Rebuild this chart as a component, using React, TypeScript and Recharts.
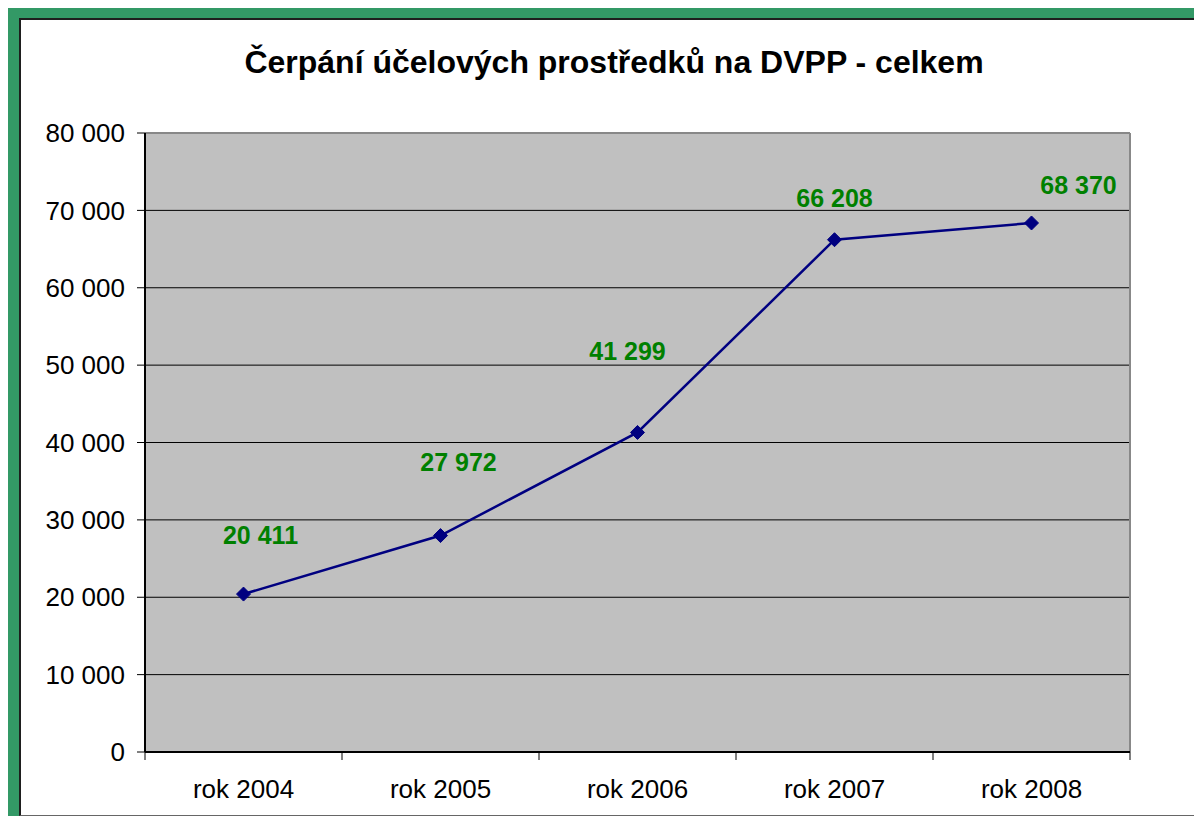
import { CartesianGrid, LabelList, Line, LineChart, ReferenceLine, XAxis, YAxis } from "recharts";

const years = ["rok 2004", "rok 2005", "rok 2006", "rok 2007", "rok 2008"];
const spending = [20411, 27972, 41299, 66208, 68370];
const yTicks = [0, 10000, 20000, 30000, 40000, 50000, 60000, 70000, 80000];

// where Excel left each data label, relative to its point
const labelShift = [
  { dx: 17, dy: -59 },
  { dx: 18, dy: -74 },
  { dx: -10, dy: -81 },
  { dx: 0, dy: -42 },
  { dx: 47, dy: -38 }
];

const data = years.map((year, i) => ({ x: i + 0.5, year, value: spending[i] }));

const FONT = '"Liberation Sans", Arial, sans-serif';
const fmt = (v: number) => String(v).replace(/\B(?=(\d{3})+(?!\d))/g, " ");

function Diamond(props: any) {
  const { cx, cy } = props;
  if (cx == null || cy == null) return null;
  const r = 7;
  return (
    <polygon
      points={`${cx},${cy - r} ${cx + r},${cy} ${cx},${cy + r} ${cx - r},${cy}`}
      fill="#000080"
      stroke="#000080"
    />
  );
}

function ValueLabel(props: any) {
  const { x, y, index, value } = props;
  const s = labelShift[index] ?? { dx: 0, dy: -30 };
  return (
    <text
      x={x + s.dx}
      y={y + s.dy}
      textAnchor="middle"
      dominantBaseline="central"
      fill="#008000"
      fontSize={25}
      fontWeight="bold"
      fontFamily={FONT}
    >
      {fmt(value)}
    </text>
  );
}

export default function App() {
  return (
    <div style={{ position: "relative", width: 1194, height: 808, overflow: "hidden", fontFamily: FONT }}>
      <div
        style={{
          position: "absolute",
          left: 0,
          top: 0,
          width: 1260,
          height: 808,
          boxSizing: "border-box",
          borderTop: "10px solid #339966",
          borderLeft: "11px solid #339966"
        }}
      >
        <div
          style={{
            height: 798,
            boxSizing: "border-box",
            borderTop: "2px solid #1e1e1e",
            borderLeft: "2px solid #1e1e1e",
            borderBottom: "1px solid #666",
            background: "#fff"
          }}
        />
      </div>

      <div
        style={{
          position: "absolute",
          left: 106,
          top: 38,
          width: 1000,
          textAlign: "center",
          fontSize: 32,
          lineHeight: "32px",
          fontWeight: "bold",
          color: "#000"
        }}
      >
        Čerpání účelových prostředků na DVPP - celkem
      </div>

      <div style={{ position: "absolute", left: -8, top: -8 }}>
        <LineChart width={1202} height={816} data={data} margin={{ top: 133, right: 72, bottom: 14, left: 45 }}>
          <CartesianGrid fill="#C0C0C0" stroke="#000" vertical={false} strokeOpacity={1} />
          {/* category boundaries: axis line and tick marks */}
          <XAxis
            dataKey="x"
            type="number"
            domain={[0, 5]}
            ticks={[0, 1, 2, 3, 4, 5]}
            tickFormatter={() => ""}
            axisLine={{ stroke: "#000", strokeWidth: 2 }}
            tickLine={{ stroke: "#000" }}
            tickSize={8}
            height={8}
          />
          {/* category names, centred between the marks */}
          <XAxis
            xAxisId="names"
            dataKey="x"
            type="number"
            domain={[0, 5]}
            ticks={[0.5, 1.5, 2.5, 3.5, 4.5]}
            tickFormatter={(v: number) => years[Math.floor(v)]}
            tickLine={false}
            axisLine={false}
            tickSize={0}
            tickMargin={20}
            height={42}
            tick={{ fill: "#000", fontSize: 26, fontFamily: FONT }}
          />
          <YAxis
            domain={[0, 80000]}
            ticks={yTicks}
            tickFormatter={fmt}
            width={100}
            tickSize={8}
            tickMargin={12}
            axisLine={{ stroke: "#000", strokeWidth: 2 }}
            tickLine={{ stroke: "#000" }}
            tick={{ fill: "#000", fontSize: 26, fontFamily: FONT }}
          />
          <ReferenceLine y={80000} stroke="#888" strokeWidth={2} />
          <ReferenceLine x={5} stroke="#888" strokeWidth={2} />
          <Line
            dataKey="value"
            stroke="#000080"
            strokeWidth={2.5}
            dot={<Diamond />}
            activeDot={false}
            isAnimationActive={false}
          >
            <LabelList dataKey="value" content={<ValueLabel />} />
          </Line>
        </LineChart>
      </div>
    </div>
  );
}
